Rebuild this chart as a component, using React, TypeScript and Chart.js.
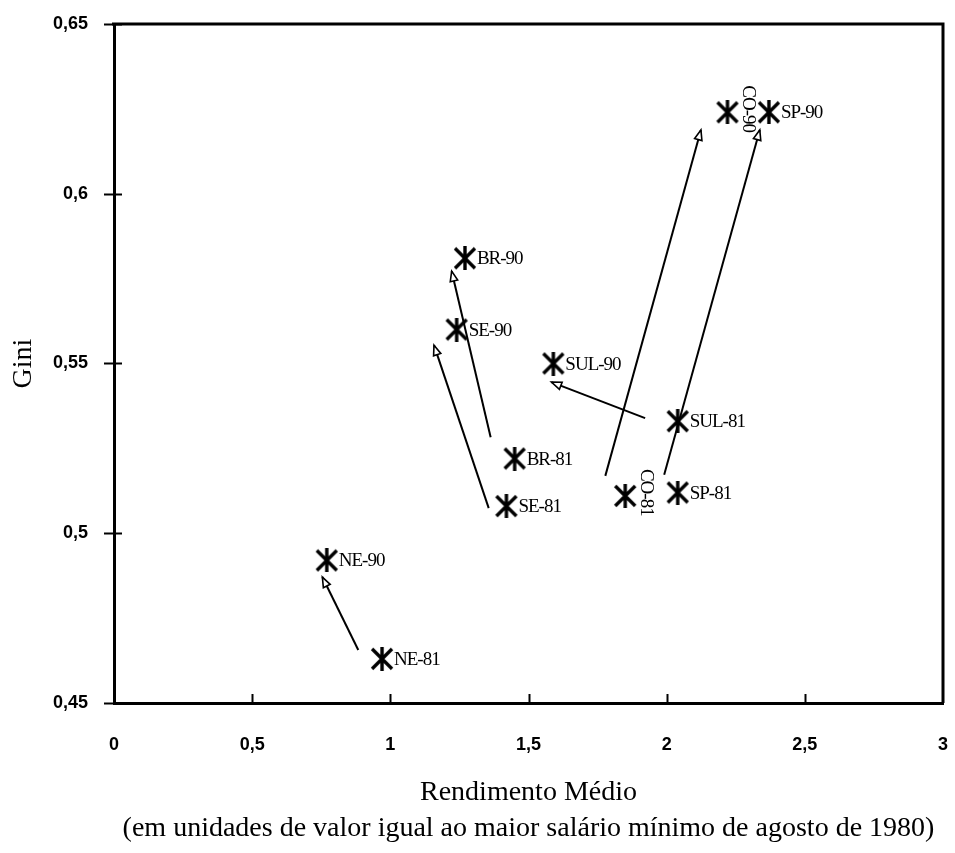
import React, { useEffect, useRef } from 'react';
import { Chart, registerables } from 'chart.js';

Chart.register(...registerables);

// Regional averages: mean income (in 1980 minimum wages) and Gini index, 1981 and 1990
const regionLabels = ['NE-81', 'NE-90', 'BR-81', 'BR-90', 'SE-81', 'SE-90', 'SUL-81', 'SUL-90', 'CO-81', 'CO-90', 'SP-81', 'SP-90'];
const rendimentoMedio = [0.97, 0.77, 1.45, 1.27, 1.42, 1.24, 2.04, 1.59, 1.85, 2.22, 2.04, 2.37];
const giniIndex = [0.463, 0.492, 0.522, 0.581, 0.508, 0.560, 0.533, 0.550, 0.511, 0.624, 0.512, 0.624];

// Trajectory arrows 1981 -> 1990 (start and head, in axis units)
const arrowRegions = ['NE', 'BR', 'SE', 'SUL', 'CO', 'SP'];
const arrowFromX = [0.884, 1.363, 1.356, 1.922, 1.778, 1.991];
const arrowFromY = [0.4656, 0.5283, 0.5074, 0.5339, 0.5169, 0.5172];
const arrowToX = [0.754, 1.222, 1.158, 1.583, 2.124, 2.337];
const arrowToY = [0.4871, 0.5772, 0.5554, 0.5445, 0.6188, 0.6188];

const xTickLabels = ['0', '0,5', '1', '1,5', '2', '2,5', '3'];
const yTickLabels = ['0,45', '0,5', '0,55', '0,6', '0,65'];

const xTitle = 'Rendimento Médio';
const xSubtitle = '(em unidades de valor igual ao maior salário mínimo de agosto de 1980)';
const yTitle = 'Gini';

const SERIF = '"Liberation Serif", "Times New Roman", serif';
const SANS = '"Liberation Sans", Arial, sans-serif';
const verticalLabels = new Set(['CO-81', 'CO-90']);

function makeAsterisk(): HTMLCanvasElement {
  const c = document.createElement('canvas');
  c.width = 24;
  c.height = 24;
  const ctx = c.getContext('2d')!;
  ctx.strokeStyle = '#000';
  ctx.lineWidth = 3.4;
  ctx.beginPath();
  ctx.moveTo(12, 0);
  ctx.lineTo(12, 24);
  ctx.moveTo(2, 2);
  ctx.lineTo(22, 22);
  ctx.moveTo(22, 2);
  ctx.lineTo(2, 22);
  ctx.stroke();
  return c;
}

// Frame (top/right), tick marks, arrowheads and point labels
const decorations = {
  id: 'decorations',
  afterDatasetsDraw(chart: any) {
    const { ctx, chartArea, scales } = chart;
    const { left, right, top, bottom } = chartArea;
    ctx.save();
    ctx.strokeStyle = '#000';
    ctx.lineWidth = 3;
    ctx.beginPath();
    ctx.moveTo(left - 2, top);
    ctx.lineTo(right, top);
    ctx.lineTo(right, bottom);
    ctx.stroke();

    // y tick marks crossing the axis
    ctx.lineWidth = 2;
    scales.y.ticks.forEach((t: any) => {
      const y = Math.round(scales.y.getPixelForValue(t.value)) + 0.5;
      ctx.beginPath();
      ctx.moveTo(left - 10, y);
      ctx.lineTo(left + 8, y);
      ctx.stroke();
    });
    // x tick marks pointing into the plot
    scales.x.ticks.forEach((t: any, i: number) => {
      if (i === 0 || i === scales.x.ticks.length - 1) return;
      const x = Math.round(scales.x.getPixelForValue(t.value)) + 0.5;
      ctx.beginPath();
      ctx.moveTo(x, bottom);
      ctx.lineTo(x, bottom - 9);
      ctx.stroke();
    });

    // open arrowheads at the 1990 end of each trajectory
    chart.data.datasets.forEach((ds: any, di: number) => {
      if (!ds.isArrow) return;
      const pts = chart.getDatasetMeta(di).data;
      const a = pts[0];
      const b = pts[1];
      const ang = Math.atan2(b.y - a.y, b.x - a.x);
      const len = 10;
      const half = 3.8;
      const bx = b.x - Math.cos(ang) * len;
      const by = b.y - Math.sin(ang) * len;
      const nx = -Math.sin(ang) * half;
      const ny = Math.cos(ang) * half;
      ctx.beginPath();
      ctx.moveTo(b.x, b.y);
      ctx.lineTo(bx + nx, by + ny);
      ctx.lineTo(bx - nx, by - ny);
      ctx.closePath();
      ctx.fillStyle = '#fff';
      ctx.fill();
      ctx.lineWidth = 1.6;
      ctx.stroke();
    });

    // region labels
    const meta = chart.getDatasetMeta(0);
    ctx.fillStyle = '#000';
    ctx.font = `19px ${SERIF}`;
    (ctx as any).letterSpacing = '-1px';
    ctx.textAlign = 'left';
    ctx.textBaseline = 'alphabetic';
    meta.data.forEach((p: any, i: number) => {
      const txt = regionLabels[i];
      if (verticalLabels.has(txt)) {
        ctx.save();
        ctx.translate(p.x + 16, p.y - 27);
        ctx.rotate(Math.PI / 2);
        ctx.fillText(txt, 0, 0);
        ctx.restore();
      } else {
        ctx.fillText(txt, p.x + 12, p.y + 6);
      }
    });
    ctx.restore();
  },
};

export default function App() {
  const canvasRef = useRef<HTMLCanvasElement | null>(null);

  useEffect(() => {
    if (!canvasRef.current) return;
    const marker = makeAsterisk();

    const points = rendimentoMedio.map((x, i) => ({ x, y: giniIndex[i] }));
    const arrowSets = arrowRegions.map((name, i) => ({
      type: 'line' as const,
      label: name,
      isArrow: true,
      data: [
        { x: arrowFromX[i], y: arrowFromY[i] },
        { x: arrowToX[i], y: arrowToY[i] },
      ],
      borderColor: '#000',
      borderWidth: 2,
      pointRadius: 0,
      showLine: true,
      fill: false,
      tension: 0,
    }));

    const chart = new Chart(canvasRef.current, {
      type: 'scatter',
      data: {
        datasets: [
          {
            label: 'Regiões',
            data: points,
            pointStyle: marker as any,
            pointRadius: 11,
            borderColor: '#000',
            backgroundColor: '#000',
          } as any,
          ...(arrowSets as any[]),
        ],
      },
      options: {
        animation: false,
        responsive: false,
        devicePixelRatio: 1,
        layout: { padding: { left: 0, top: 24, right: 9, bottom: 0 } },
        plugins: {
          legend: { display: false },
          tooltip: { enabled: false },
          title: { display: false },
        },
        scales: {
          x: {
            type: 'linear',
            position: 'bottom',
            min: 0,
            max: 3,
            grid: { display: false, drawTicks: false },
            border: { display: true, color: '#000', width: 3 },
            ticks: {
              stepSize: 0.5,
              padding: 31,
              color: '#000',
              autoSkip: false,
              maxRotation: 0,
              font: { family: SANS, size: 18, weight: 'bold' },
              callback: (_v: any, i: number) => xTickLabels[i],
            },
            title: {
              display: true,
              text: [xTitle, xSubtitle],
              color: '#000',
              font: { family: SERIF, size: 28, lineHeight: 1.3 },
              padding: { top: 0, bottom: 6 },
            },
            afterFit: (s: any) => {
              s.height = 150;
              s.paddingLeft = 0;
              s.paddingRight = 0;
            },
          },
          y: {
            type: 'linear',
            min: 0.45,
            max: 0.65,
            grid: { display: false, drawTicks: false },
            border: { display: true, color: '#000', width: 3 },
            ticks: {
              stepSize: 0.05,
              padding: 26,
              color: '#000',
              font: { family: SANS, size: 18, weight: 'bold' },
              callback: (v: any) => yTickLabels[Math.round((Number(v) - 0.45) / 0.05)],
            },
            title: {
              display: true,
              text: yTitle,
              color: '#000',
              font: { family: SERIF, size: 28 },
              padding: { top: 7, bottom: 0 },
            },
            afterFit: (s: any) => {
              s.width = 114;
              s.paddingTop = 0;
              s.paddingBottom = 0;
            },
          },
        },
      } as any,
      plugins: [decorations],
    });

    return () => chart.destroy();
  }, []);

  return (
    <div style={{ position: 'absolute', left: 0, top: 0, width: 955, height: 853, background: '#fff' }}>
      <canvas ref={canvasRef} width={955} height={853} style={{ display: 'block' }} />
    </div>
  );
}
